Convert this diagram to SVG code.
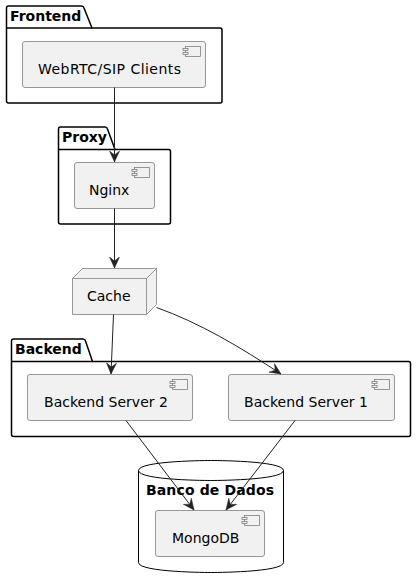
<svg xmlns="http://www.w3.org/2000/svg" width="416" height="588" viewBox="0 0 416 588">
<style>
text{font-family:"DejaVu Sans",sans-serif;fill:#000}
.t{font-size:14px}
.p{font-size:14px;font-weight:bold}
.pk{fill:#fff;stroke:#000;stroke-width:1.5}
.c{fill:#f1f1f1;stroke:#777;stroke-width:.75}
.i{fill:#f1f1f1;stroke:#777;stroke-width:.75}
.e{fill:none;stroke:#222;stroke-width:1}
.h{fill:#222;stroke:#222;stroke-width:.5}
</style>
<defs>
<g id="ci"><rect class="i" x="2.5" y="0" width="15" height="10"/><rect class="i" x="0" y="2" width="5" height="2"/><rect class="i" x="0" y="6" width="5" height="2"/></g>
<marker id="ar" markerUnits="userSpaceOnUse" markerWidth="14" markerHeight="12" refX="11.5" refY="6" orient="auto" viewBox="0 0 14 12"><path class="h" d="M0.5,1 L11.5,6 L0.5,11 L4.5,6Z"/></marker>
</defs>
<g id="frontend-pkg">
<path class="pk" d="M8.5,6 H81.5 Q83.5,6 84,8 L92,28 H220 Q222,28 222,30 V101 Q222,103 220,103 H8.5 Q6.5,103 6.5,101 V8 Q6.5,6 8.5,6Z"/>
<path class="pk" d="M6.5,28 H92"/>
<text class="p" x="10" y="21">Frontend</text>
</g>
<g id="webrtc"><rect class="c" x="22.5" y="41.5" width="183" height="46" rx="2.5"/><use href="#ci" x="183" y="46.5"/><text class="t" x="38" y="74" textLength="143">WebRTC/SIP Clients</text></g>
<g id="proxy-pkg">
<path class="pk" d="M60.5,127 H105 Q107,127 107.5,129 L115,149.5 H168.5 Q170.5,149.5 170.5,151.5 V222 Q170.5,224 168.5,224 H60.5 Q58.5,224 58.5,222 V129 Q58.5,127 60.5,127Z"/>
<path class="pk" d="M58.5,149.5 H115"/>
<text class="p" x="62" y="142">Proxy</text>
</g>
<g id="nginx"><rect class="c" x="74.5" y="162.5" width="80" height="46" rx="2.5"/><use href="#ci" x="132" y="167.5"/><text class="t" x="89" y="195">Nginx</text></g>
<g id="cache">
<path class="c" d="M72.5,278.5 L82.5,268.5 H156.5 V304.5 L146.5,314.5 H72.5Z"/>
<path class="c" fill="none" d="M72.5,278.5 H146.5 L156.5,268.5 M146.5,278.5 V314.5"/>
<text class="t" x="87" y="301">Cache</text>
</g>
<g id="backend-pkg">
<path class="pk" d="M13.5,339 H83 Q85,339 85.5,341 L92.5,361.5 H408.5 Q410.5,361.5 410.5,363.5 V434.5 Q410.5,436.5 408.5,436.5 H13.5 Q11.5,436.5 11.5,434.5 V341 Q11.5,339 13.5,339Z"/>
<path class="pk" d="M11.5,361.5 H92.5"/>
<text class="p" x="15" y="354">Backend</text>
</g>
<g id="backend2"><rect class="c" x="27.5" y="374.5" width="165" height="46" rx="2.5"/><use href="#ci" x="170" y="379.5"/><text class="t" x="44" y="407" textLength="124">Backend Server 2</text></g>
<g id="backend1"><rect class="c" x="228.5" y="374.5" width="166" height="46" rx="2.5"/><use href="#ci" x="372" y="379.5"/><text class="t" x="244" y="407" textLength="124">Backend Server 1</text></g>
<g id="banco">
<path class="pk" d="M138.5,470.5 C138.5,460.5 211,460.5 211,460.5 C211,460.5 283.5,460.5 283.5,470.5 V562.5 C283.5,572.5 211,572.5 211,572.5 C211,572.5 138.5,572.5 138.5,562.5Z" style="stroke-width:1"/>
<path class="pk" d="M138.5,470.5 C138.5,480.5 211,480.5 211,480.5 C211,480.5 283.5,480.5 283.5,470.5" style="fill:none;stroke-width:1"/>
<text class="p" x="146" y="495" textLength="128">Banco de Dados</text>
</g>
<g id="mongodb"><rect class="c" x="155.5" y="510.5" width="109" height="46" rx="2.5"/><use href="#ci" x="242" y="515.5"/><text class="t" x="172" y="543">MongoDB</text></g>
<g id="connectors">
<path class="e" marker-end="url(#ar)" d="M114.5,87.5 V162"/>
<path class="e" marker-end="url(#ar)" d="M114.5,208.5 V268"/>
<path class="e" marker-end="url(#ar)" d="M113.5,314.5 L111,374"/>
<path class="e" marker-end="url(#ar)" d="M156.5,307.5 C200,323 240,347 281,374"/>
<path class="e" marker-end="url(#ar)" d="M126,420.5 L194,510"/>
<path class="e" marker-end="url(#ar)" d="M295,420.5 L226,510"/>
</g>
</svg>
